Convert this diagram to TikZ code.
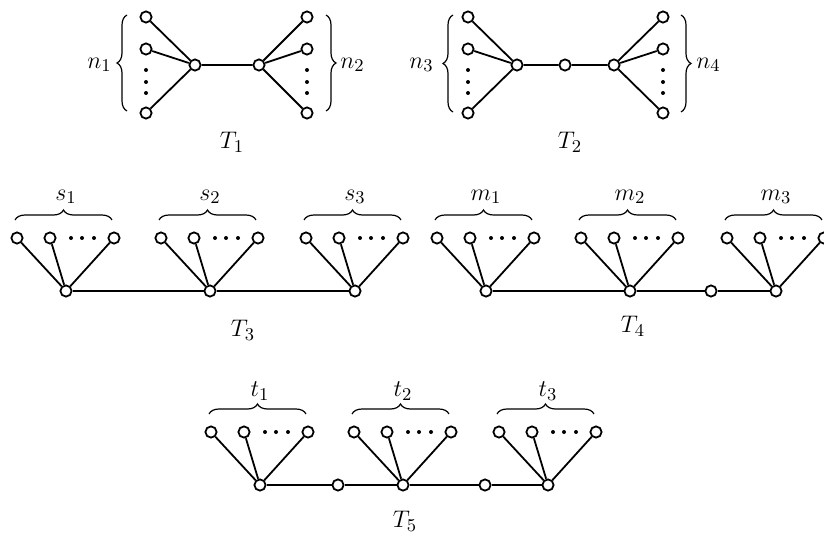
\documentclass[tikz,border=0pt]{standalone}
\usetikzlibrary{decorations.pathreplacing}
\begin{document}
\begin{tikzpicture}[x=0.5pt,y=-0.5pt,
  every node/.style={font=\fontsize{12.5}{15}\selectfont},
  v/.style={circle,draw,fill=white,inner sep=0pt,minimum size=5.6pt,line width=0.9pt},
  dt/.style={circle,fill,inner sep=0pt,minimum size=2pt},
  edge/.style={line width=0.9pt},
  br/.style={decorate,decoration={brace,amplitude=5pt},line width=0.6pt},
  lab/.style={inner sep=1pt},
  pics/grp/.style={code={
    \node[v] (-h) at (0,0) {};
    \node[v] (-a) at (-49,-53) {};
    \node[v] (-b) at (-16,-53) {};
    \node[v] (-c) at (48,-53) {};
    \node[dt] (-d1) at (5,-53) {};
    \node[dt] (-d2) at (16,-53) {};
    \node[dt] (-d3) at (28,-53) {};
    \draw[edge] (-h) -- (-a) (-h) -- (-b) (-h) -- (-c);
    \draw[br] (-51,-71) -- (46,-71);
    \node[lab] (-l) at (0,-94) {$#1$};
  }}
]
\useasboundingbox (0,0) rectangle (824,535);

% ---------- T1 ----------
\node[v] (a1) at (146,17) {};
\node[v] (a2) at (146,49) {};
\node[v] (a3) at (146,113) {};
\node[dt] (ad1) at (146,70) {};
\node[dt] (ad2) at (146,82) {};
\node[dt] (ad3) at (146,93) {};
\node[v] (ha) at (195,65) {};
\node[v] (hb) at (259,65) {};
\node[v] (b1) at (307,17) {};
\node[v] (b2) at (307,49) {};
\node[v] (b3) at (307,113) {};
\node[dt] (bd1) at (307,70) {};
\node[dt] (bd2) at (307,82) {};
\node[dt] (bd3) at (307,93) {};
\draw[edge] (ha) -- (a1) (ha) -- (a2) (ha) -- (a3) (ha) -- (hb)
            (hb) -- (b1) (hb) -- (b2) (hb) -- (b3);
\draw[br] (127,111) -- (127,15);
\draw[br] (326,15) -- (326,111);
\node[lab,anchor=east] (n1) at (114,65) {$n_1$};
\node[lab,anchor=west] (n2) at (338,65) {$n_2$};
\node (T1) at (232,142) {$T_1$};

% ---------- T2 ----------
\node[v] (c1) at (468,17) {};
\node[v] (c2) at (468,49) {};
\node[v] (c3) at (468,113) {};
\node[dt] (cd1) at (468,70) {};
\node[dt] (cd2) at (468,82) {};
\node[dt] (cd3) at (468,93) {};
\node[v] (hc) at (517,65) {};
\node[v] (mc) at (565,65) {};
\node[v] (hd) at (614,65) {};
\node[v] (d1) at (663,17) {};
\node[v] (d2) at (663,49) {};
\node[v] (d3) at (663,113) {};
\node[dt] (dd1) at (663,70) {};
\node[dt] (dd2) at (663,82) {};
\node[dt] (dd3) at (663,93) {};
\draw[edge] (hc) -- (c1) (hc) -- (c2) (hc) -- (c3) (hc) -- (mc) -- (hd)
            (hd) -- (d1) (hd) -- (d2) (hd) -- (d3);
\draw[br] (453,112) -- (453,15);
\draw[br] (681,15) -- (681,112);
\node[lab,anchor=east] (n3) at (436,65) {$n_3$};
\node[lab,anchor=west] (n4) at (694,65) {$n_4$};
\node (T2) at (570,142) {$T_2$};

% ---------- T3 ----------
\pic (s1) at (66,291) {grp={s_1}};
\pic (s2) at (210,291) {grp={s_2}};
\pic (s3) at (355,291) {grp={s_3}};
\draw[edge] (s1-h) -- (s2-h) -- (s3-h);
\node (T3) at (243,330) {$T_3$};

% ---------- T4 ----------
\pic (m1) at (486,291) {grp={m_1}};
\pic (m2) at (630,291) {grp={m_2}};
\pic (m3) at (776,291) {grp={m_3}};
\node[v] (mm) at (711,291) {};
\draw[edge] (m1-h) -- (m2-h) -- (mm) -- (m3-h);
\node (T4) at (633,326) {$T_4$};

% ---------- T5 ----------
\pic (t1) at (260,485) {grp={t_1}};
\pic (t2) at (403,485) {grp={t_2}};
\pic (t3) at (548,485) {grp={t_3}};
\node[v] (u1) at (338,485) {};
\node[v] (u2) at (485,485) {};
\draw[edge] (t1-h) -- (u1) -- (t2-h) -- (u2) -- (t3-h);
\node (T5) at (405,521) {$T_5$};
\end{tikzpicture}
\end{document}
